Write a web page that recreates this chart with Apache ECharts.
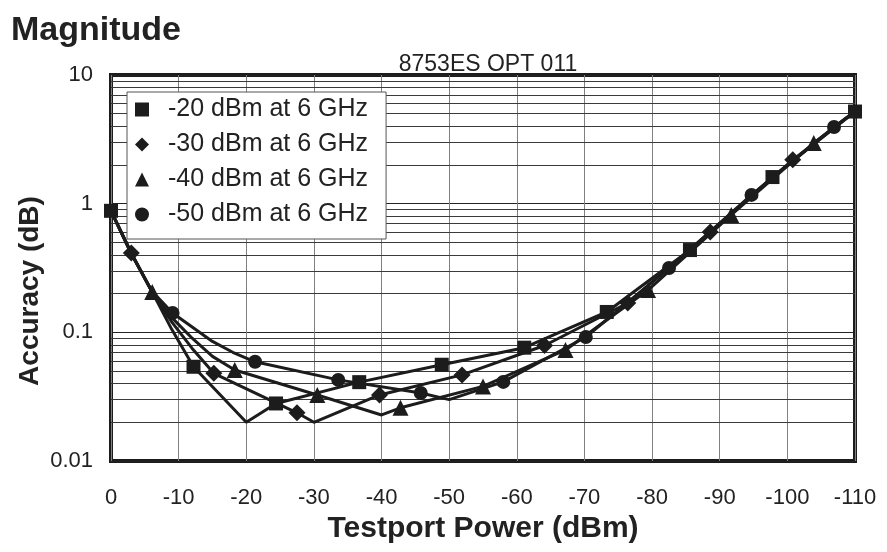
<!DOCTYPE html>
<html>
<head>
<meta charset="utf-8">
<script src="https://cdn.jsdelivr.net/npm/echarts@6/dist/echarts.min.js"></script>
<style>
  html, body { margin: 0; padding: 0; background: #fff; }
  #chart { width: 887px; height: 552px; }
</style>
</head>
<body>
<div id="chart"></div>
<script>
// minor log grid lines (2..9 in every decade)
const minorGrid = [0.02, 0.03, 0.04, 0.05, 0.06, 0.07, 0.08, 0.09,
                   0.2, 0.3, 0.4, 0.5, 0.6, 0.7, 0.8, 0.9,
                   2, 3, 4, 5, 6, 7, 8, 9];

const names = ['-20 dBm at 6 GHz', '-30 dBm at 6 GHz', '-40 dBm at 6 GHz', '-50 dBm at 6 GHz'];
const icons = ['rect', 'diamond', 'triangle', 'circle'];

// -20 dBm (square)
const sqX = [0, -3, -6, -9, -12.2, -20, -24.4, -36.7, -48.9, -61.1, -73.3, -85.6, -97.8, -110];
const sqY = [0.88, 0.41, 0.21, 0.105, 0.054, 0.020, 0.028, 0.041, 0.056, 0.076, 0.144, 0.436, 1.61, 5.2];
const sqMarks = [0, -12.2, -24.4, -36.7, -48.9, -61.1, -73.3, -85.6, -97.8, -110];

// -30 dBm (diamond)
const diX = [0, -3, -6, -9, -12, -15.2, -27.5, -30, -39.7, -51.9, -64.1, -76.4, -88.6, -100.8, -110];
const diY = [0.88, 0.414, 0.21, 0.12, 0.075, 0.048, 0.0237, 0.020, 0.0326, 0.0467, 0.079, 0.169, 0.603, 2.19, 5.2];
const diMarks = [-3, -15.2, -27.5, -39.7, -51.9, -64.1, -76.4, -88.6, -100.8];

// -40 dBm (triangle)
const trX = [0, -3, -6.1, -9, -12, -15, -18.3, -30.5, -40, -42.8, -55, -67.2, -79.4, -91.7, -103.9, -110];
const trY = [0.88, 0.41, 0.206, 0.13, 0.09, 0.065, 0.051, 0.0326, 0.0228, 0.0259, 0.038, 0.073, 0.213, 0.817, 2.96, 5.2];
const trMarks = [-6.1, -18.3, -30.5, -42.8, -55, -67.2, -79.4, -91.7, -103.9];

// -50 dBm (circle)
const ciX = [0, -3, -6, -9.1, -12, -15, -18, -21.3, -33.6, -45.8, -50, -58, -70.2, -82.5, -94.7, -106.9, -110];
const ciY = [0.88, 0.41, 0.21, 0.1415, 0.11, 0.085, 0.07, 0.059, 0.0427, 0.0338, 0.030, 0.0412, 0.092, 0.316, 1.17, 3.94, 5.2];
const ciMarks = [-9.1, -21.3, -33.6, -45.8, -58, -70.2, -82.5, -94.7, -106.9];

const curves = [
  { x: sqX, y: sqY, marks: sqMarks, size: 14 },
  { x: diX, y: diY, marks: diMarks, size: 17 },
  { x: trX, y: trY, marks: trMarks, size: 16 },
  { x: ciX, y: ciY, marks: ciMarks, size: 14 }
];

const FONT = '"Liberation Sans", Arial, sans-serif';
const INK = '#1c1c1c';

function pairs(xs, ys) {
  return xs.map((x, i) => [x, ys[i]]);
}

function markPoints(c) {
  return c.marks.map(m => [m, c.y[c.x.indexOf(m)]]);
}

const series = [{
  // carries the minor log grid lines
  type: 'line',
  data: [[-50, 1]],
  symbol: 'none',
  lineStyle: { opacity: 0 },
  silent: true,
  markLine: {
    z: 1,
    silent: true,
    symbol: ['none', 'none'],
    label: { show: false },
    lineStyle: { color: '#3a3a3a', width: 1, type: 'solid' },
    data: minorGrid.map(v => ({ yAxis: v }))
  }
}];

curves.forEach((c, i) => {
  series.push({
    name: names[i],
    type: 'line',
    data: pairs(c.x, c.y),
    symbol: 'none',
    clip: false,
    z: 3,
    lineStyle: { color: INK, width: 3 },
    itemStyle: { color: INK }
  });
  series.push({
    name: names[i],
    type: 'scatter',
    data: markPoints(c),
    symbol: icons[i],
    symbolSize: c.size,
    clip: false,
    z: 4,
    itemStyle: { color: INK, opacity: 1 }
  });
});

const chart = echarts.init(document.getElementById('chart'), null, { renderer: 'canvas' });

chart.setOption({
  animation: false,
  backgroundColor: '#fff',
  textStyle: { fontFamily: FONT },
  title: [{
    text: 'Magnitude',
    left: 6,
    top: 9,
    textStyle: { fontFamily: FONT, fontSize: 34, fontWeight: 'bold', color: '#222' }
  }, {
    text: '8753ES OPT 011',
    left: 483,
    top: 48,
    textAlign: 'center',
    textStyle: { fontFamily: FONT, fontSize: 23, fontWeight: 'normal', color: '#222' }
  }],
  legend: {
    orient: 'vertical',
    left: 127,
    top: 92,
    padding: [5, 18, 12, 8],
    itemWidth: 14,
    itemHeight: 14,
    itemGap: 10,
    backgroundColor: '#fff',
    borderColor: '#555',
    borderWidth: 1,
    z: 10,
    selectedMode: false,
    textStyle: { fontFamily: FONT, fontSize: 25, lineHeight: 24, color: '#222', padding: [0, 0, 0, 14] },
    data: names.map((n, i) => ({ name: n, icon: icons[i], itemStyle: { color: INK } }))
  },
  grid: {
    left: 111,
    right: 32,
    top: 75,
    bottom: 91,
    show: true,
    borderColor: INK,
    borderWidth: 4,
    backgroundColor: 'transparent'
  },
  xAxis: {
    type: 'value',
    inverse: true,
    min: -110,
    max: 0,
    interval: 10,
    axisLine: { show: false },
    axisTick: { show: false },
    axisLabel: { fontFamily: FONT, fontSize: 22, color: '#222', margin: 26 },
    splitLine: { show: true, lineStyle: { color: '#808080', width: 1 } },
    name: 'Testport Power (dBm)',
    nameLocation: 'middle',
    nameGap: 53,
    nameTextStyle: { fontFamily: FONT, fontSize: 30, fontWeight: 'bold', color: '#222' }
  },
  yAxis: {
    type: 'log',
    logBase: 10,
    min: 0.01,
    max: 10,
    axisLine: { show: false },
    axisTick: { show: false },
    axisLabel: { fontFamily: FONT, fontSize: 22, color: '#222', margin: 18 },
    splitLine: { show: true, lineStyle: { color: '#222', width: 1 } },
    name: 'Accuracy (dB)',
    nameLocation: 'middle',
    nameMoveOverlap: false,
    nameGap: 67,
    nameTextStyle: { fontFamily: FONT, fontSize: 28, fontWeight: 'bold', color: '#222', padding: [0, 46, 0, 0] }
  },
  series: series
});
</script>
</body>
</html>
